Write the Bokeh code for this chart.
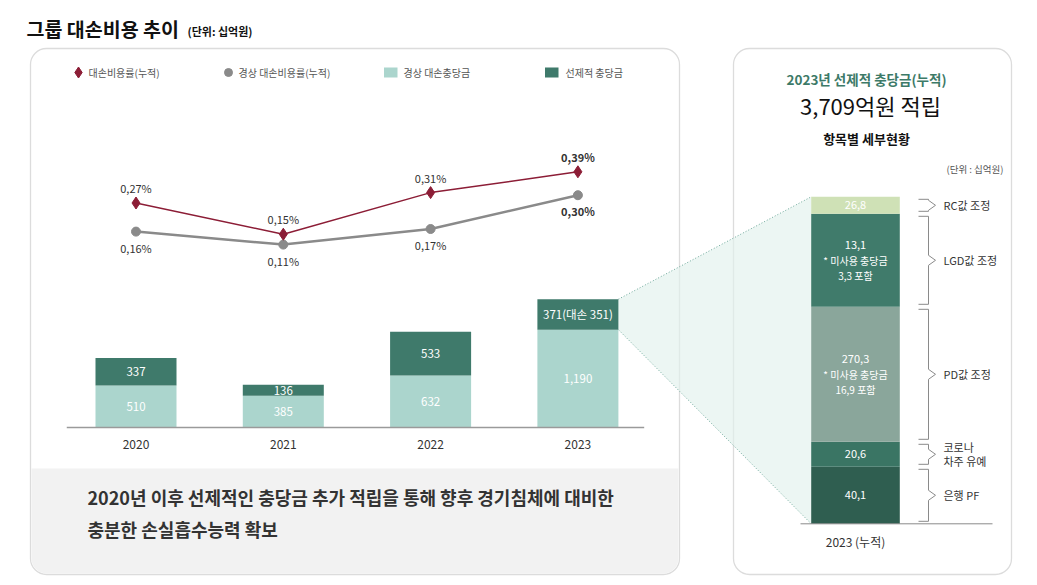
from bokeh.plotting import figure
from bokeh.models import Range1d
from bokeh.embed import file_html
from bokeh.resources import INLINE
from bokeh.core.properties import value

# ---------------- data ----------------
years = ["2020", "2021", "2022", "2023"]
regular_provision = [510, 385, 632, 1190]          # 경상 대손충당금
preemptive_provision = [337, 136, 533, 371]        # 선제적 충당금
regular_labels = ["510", "385", "632", "1,190"]
preemptive_labels = ["337", "136", "533", "371(대손 351)"]
loss_rate = [0.27, 0.15, 0.31, 0.39]               # 대손비용률(누적)
regular_loss_rate = [0.16, 0.11, 0.17, 0.30]       # 경상 대손비용률(누적)
loss_rate_labels = ["0,27%", "0,15%", "0,31%", "0,39%"]
regular_loss_rate_labels = ["0,16%", "0,11%", "0,17%", "0,30%"]

# 2023 선제적 충당금 breakdown (bottom -> top)
detail_items = [["은행 PF"], ["코로나", "차주 유예"], ["PD값 조정"], ["LGD값 조정"], ["RC값 조정"]]
detail_values = [40.1, 20.6, 270.3, 13.1, 26.8]
detail_value_labels = ["40,1", "20,6", "270,3", "13,1", "26,8"]
detail_notes = [[], [], ["* 미사용 충당금", "16,9 포함"], ["* 미사용 충당금", "3,3 포함"], []]

# ---------------- layout / style ----------------
FONT = value("Noto Sans CJK KR")
W, H = 1030, 578
OX, OY = 0, 0
LIGHT = "#abd5cd"
DARK = "#3f7a6b"
RED = "#8c1d36"
GRAY = "#8a8a8a"
DETAIL_COLORS = ["#2f5e50", "#3a7564", "#8aa69b", "#407b6b", "#cfe1b6"]
DETAIL_BLOCK_PX = [57, 25, 135, 93, 17]   # schematic block heights of the detail bar

def Y(s):  # screen y -> main data y
    return -s

p = figure(width=W, height=H, x_range=Range1d(OX, OX + W), y_range=Range1d(-(OY + H), -OY),
           output_backend="svg", toolbar_location=None, min_border=0,
           x_axis_location=None, y_axis_location=None)
p.grid.visible = False
p.outline_line_color = None
p.background_fill_color = "white"

# bar / line scales mapped onto the frame
BAR_X0, BAR_DX, BAR_W = 135.5, 147.3, 0.55
BASE_Y, BAR_PX = 427.0, 0.0822
LINE_Y0, LINE_PX = 272.7, 260.0
p.extra_x_ranges = {"bx": Range1d((OX - BAR_X0) / BAR_DX, (OX + W - BAR_X0) / BAR_DX)}
p.extra_y_ranges = {
    "by": Range1d(-(OY + H - BASE_Y) / BAR_PX, (BASE_Y - OY) / BAR_PX),
    "ly": Range1d((LINE_Y0 - (OY + H)) / LINE_PX, (LINE_Y0 - OY) / LINE_PX),
}
DET_BASE = 523.3
DET_L, DET_R = 810.7, 899.3
p.extra_y_ranges["dy"] = Range1d(-(OY + H - DET_BASE), DET_BASE - OY)

# ---------------- title ----------------
p.text(x=[26], y=[Y(28)], text=["그룹 대손비용 추이"], text_font=FONT, text_font_size="19.5px",
       text_font_style="bold", text_color="#111111", text_baseline="middle")
p.text(x=[187], y=[Y(30)], text=["(단위: 십억원)"], text_font=FONT, text_font_size="11px",
       text_font_style="bold", text_color="#111111", text_baseline="middle")

# ---------------- panels ----------------
p.quad(left=[30], right=[679], top=[Y(48)], bottom=[Y(574)], border_radius=16,
       fill_color="white", line_color="#dcdcdc", line_width=1.3)
p.quad(left=[31], right=[678], top=[Y(468)], bottom=[Y(573)], border_radius=(0, 0, 15, 15),
       fill_color="#f2f2f2", line_color=None)
p.quad(left=[733], right=[1011], top=[Y(48)], bottom=[Y(574)], border_radius=16,
       fill_color="white", line_color="#dcdcdc", line_width=1.3)

# ---------------- legend ----------------
LEG_Y = 72
p.scatter(x=[78], y=[Y(LEG_Y)], marker="diamond", size=11, fill_color=RED, line_color=RED)
p.scatter(x=[228], y=[Y(LEG_Y)], marker="circle", size=8, fill_color=GRAY, line_color=GRAY)
p.quad(left=[383.5], right=[397], top=[Y(LEG_Y - 5)], bottom=[Y(LEG_Y + 5)], fill_color=LIGHT, line_color=None)
p.quad(left=[544.5], right=[558], top=[Y(LEG_Y - 5)], bottom=[Y(LEG_Y + 5)], fill_color=DARK, line_color=None)
p.text(x=[88, 238, 403, 565], y=[Y(LEG_Y)] * 4,
       text=["대손비용률(누적)", "경상 대손비용률(누적)", "경상 대손충당금", "선제적 충당금"],
       text_font=FONT, text_font_size="10px", text_color="#555555", text_baseline="middle")

# ---------------- callout (zoom) area ----------------
i_last = len(years) - 1
bar_right = BAR_X0 + (i_last + BAR_W / 2) * BAR_DX
top_last = BASE_Y - (regular_provision[i_last] + preemptive_provision[i_last]) * BAR_PX
mid_last = BASE_Y - regular_provision[i_last] * BAR_PX
det_top = DET_BASE - sum(DETAIL_BLOCK_PX)
p.patch(x=[bar_right, DET_L, DET_L, bar_right], y=[Y(top_last), Y(det_top), Y(DET_BASE), Y(mid_last)],
        fill_color="#e2f1ec", fill_alpha=0.65, line_color=None)
p.segment(x0=[bar_right, bar_right], y0=[Y(top_last), Y(mid_last)], x1=[DET_L, DET_L], y1=[Y(det_top), Y(DET_BASE)],
          line_color="#6fa99b", line_width=1, line_dash="1 2")

# ---------------- stacked bars ----------------
idx = list(range(len(years)))
totals = [a + b for a, b in zip(regular_provision, preemptive_provision)]
p.vbar(x=idx, width=BAR_W, bottom=0, top=regular_provision, fill_color=LIGHT, line_color=None,
       x_range_name="bx", y_range_name="by")
p.vbar(x=idx, width=BAR_W, bottom=regular_provision, top=totals, fill_color=DARK, line_color=None,
       x_range_name="bx", y_range_name="by")
p.text(x=idx, y=[v / 2 for v in regular_provision], text=regular_labels, text_font=FONT,
       text_font_size="11.5px", text_color="white", text_align="center", text_baseline="middle",
       x_range_name="bx", y_range_name="by")
p.text(x=idx, y=[a + b / 2 for a, b in zip(regular_provision, preemptive_provision)], text=preemptive_labels,
       text_font=FONT, text_font_size="11.5px", text_color="white", text_align="center", text_baseline="middle",
       x_range_name="bx", y_range_name="by")
p.segment(x0=[-0.47], x1=[3.45], y0=[0], y1=[0], line_color="#9a9a9a", line_width=1.5,
          x_range_name="bx", y_range_name="by")
p.text(x=idx, y=[Y(444)] * 4, text=years, text_font=FONT, text_font_size="12px", text_color="#333333",
       text_align="center", text_baseline="middle", x_range_name="bx")

# ---------------- rate lines ----------------
p.line(x=idx, y=regular_loss_rate, line_color=GRAY, line_width=2.5, x_range_name="bx", y_range_name="ly")
p.scatter(x=idx, y=regular_loss_rate, marker="circle", size=9, fill_color=GRAY, line_color=GRAY,
          x_range_name="bx", y_range_name="ly")
p.line(x=idx, y=loss_rate, line_color=RED, line_width=1.5, x_range_name="bx", y_range_name="ly")
p.scatter(x=idx, y=loss_rate, marker="diamond", size=12, fill_color=RED, line_color=RED,
          x_range_name="bx", y_range_name="ly")
for i in idx:
    bold = "bold" if i == i_last else "normal"
    p.text(x=[i], y=[loss_rate[i]], text=[loss_rate_labels[i]], text_font=FONT, text_font_size="11px",
           text_font_style=bold, text_color="#333333", text_align="center", text_baseline="middle",
           y_offset=-15, x_range_name="bx", y_range_name="ly")
    p.text(x=[i], y=[regular_loss_rate[i]], text=[regular_loss_rate_labels[i]], text_font=FONT,
           text_font_size="11px", text_font_style=bold, text_color="#333333", text_align="center",
           text_baseline="middle", y_offset=16, x_range_name="bx", y_range_name="ly")

# ---------------- bottom message ----------------
p.text(x=[87, 87], y=[Y(496), Y(528)],
       text=["2020년 이후 선제적인 충당금 추가 적립을 통해 향후 경기침체에 대비한", "충분한 손실흡수능력 확보"],
       text_font=FONT, text_font_size="18px", text_font_style="bold", text_color="#333333",
       text_baseline="middle")

# ---------------- right panel ----------------
p.text(x=[866], y=[Y(78)], text=["2023년 선제적 충당금(누적)"], text_font=FONT, text_font_size="13.5px",
       text_font_style="bold", text_color="#3d7a68", text_align="center", text_baseline="middle")
p.text(x=[870], y=[Y(104)], text=["3,709억원 적립"], text_font=FONT, text_font_size="22px",
       text_color="#111111", text_align="center", text_baseline="middle")
p.text(x=[866], y=[Y(138)], text=["항목별 세부현황"], text_font=FONT, text_font_size="13px",
       text_font_style="bold", text_color="#111111", text_align="center", text_baseline="middle")
p.text(x=[1003], y=[Y(168)], text=["(단위 : 십억원)"], text_font=FONT, text_font_size="9.5px",
       text_color="#555555", text_align="right", text_baseline="middle")

bottoms, tops = [], []
acc = 0
for h in DETAIL_BLOCK_PX:
    bottoms.append(acc)
    acc += h
    tops.append(acc)
p.quad(left=DET_L, right=DET_R, bottom=bottoms, top=tops, fill_color=DETAIL_COLORS, line_color=None,
       y_range_name="dy")
cx = (DET_L + DET_R) / 2
BR_X0, BR_X1, BR_TIP = 918, 928, 935
for k, (b, t) in enumerate(zip(bottoms, tops)):
    mid = (b + t) / 2
    lines = [detail_value_labels[k]] + detail_notes[k]
    n = len(lines)
    for j, s in enumerate(lines):
        off = (j - (n - 1) / 2) * 15
        p.text(x=[cx], y=[mid], text=[s], text_font=FONT,
               text_font_size="11px" if j == 0 else "10px", text_color="white",
               text_align="center", text_baseline="middle", y_offset=off, y_range_name="dy")
    # bracket
    tt, bb = t - 2.5, b + 2.5
    p.line(x=[BR_X0, BR_X1, BR_X1, BR_TIP, BR_X1, BR_X1, BR_X0],
           y=[tt, tt, mid + 5, mid, mid - 5, bb, bb], line_color="#8a8a8a", line_width=1,
           y_range_name="dy")
    items = detail_items[k]
    for j, s in enumerate(items):
        off = (j - (len(items) - 1) / 2) * 14
        p.text(x=[943], y=[mid], text=[s], text_font=FONT, text_font_size="11px", text_color="#333333",
               text_baseline="middle", y_offset=off, y_range_name="dy")
p.segment(x0=[800], x1=[992], y0=[0], y1=[0], line_color="#8a8a8a", line_width=1, y_range_name="dy")
p.text(x=[cx], y=[Y(541)], text=["2023 (누적)"], text_font=FONT, text_font_size="12px", text_color="#333333",
       text_align="center", text_baseline="middle")

open("out.html", "w").write(file_html(p, INLINE))
